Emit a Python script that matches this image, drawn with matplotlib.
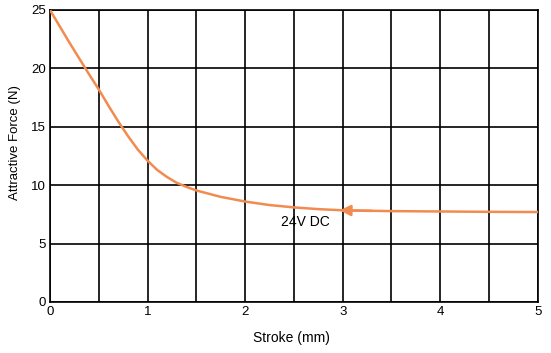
import matplotlib.pyplot as plt
import numpy as np

# stroke (mm) vs attractive force (N)
stroke = [0, 0.1, 0.2, 0.3, 0.4, 0.5, 0.6, 0.7, 0.8, 0.9, 1.0, 1.1, 1.2, 1.3,
          1.4, 1.5, 1.75, 2.0, 2.25, 2.5, 2.75, 3.0, 3.5, 4.0, 4.5, 5.0]
force = [25.0, 23.6, 22.2, 20.85, 19.5, 18.2, 16.8, 15.45, 14.2, 13.05, 12.1, 11.3,
         10.7, 10.2, 9.85, 9.55, 9.0, 8.6, 8.3, 8.1, 7.95, 7.85, 7.78, 7.75, 7.72, 7.7]
xticks = [0, 1, 2, 3, 4, 5]
yticks = [0, 5, 10, 15, 20, 25]
label = '24V DC'

plt.rcParams['font.family'] = ['Liberation Sans', 'DejaVu Sans']
orange = '#f28b50'

fig = plt.figure(figsize=(5.51, 3.53), dpi=100)
ax = fig.add_axes([0.0907, 0.1445, 0.8853, 0.8272])

ax.plot(stroke, force, color=orange, lw=1.8, zorder=3)
ax.annotate('', xy=(2.97, 7.85), xytext=(3.3, 7.8),
            arrowprops=dict(arrowstyle='-|>', color=orange, lw=1.8,
                            mutation_scale=16, shrinkA=0, shrinkB=0), zorder=4)
ax.text(2.62, 6.85, label, fontsize=10, ha='center', va='center')

ax.set_xlim(0, 5)
ax.set_ylim(0, 25)
ax.set_xticks(xticks)
ax.set_yticks(yticks)
ax.set_xticks(np.arange(0, 5.01, 0.5), minor=True)
ax.grid(True, which='both', axis='x', color='black', lw=1.2)
ax.grid(True, which='major', axis='y', color='black', lw=1.2)
ax.tick_params(which='both', length=0, labelsize=9.5)
ax.tick_params(axis='x', pad=3)
ax.tick_params(axis='y', pad=3)
for s in ax.spines.values():
    s.set_linewidth(1.2)

ax.set_xlabel('Stroke (mm)', fontsize=10)
ax.set_ylabel('Attractive Force (N)', fontsize=9.5)
ax.xaxis.set_label_coords(0.494, -0.10)
ax.yaxis.set_label_coords(-0.059, 0.545)

fig.savefig('out.png', dpi=100)
